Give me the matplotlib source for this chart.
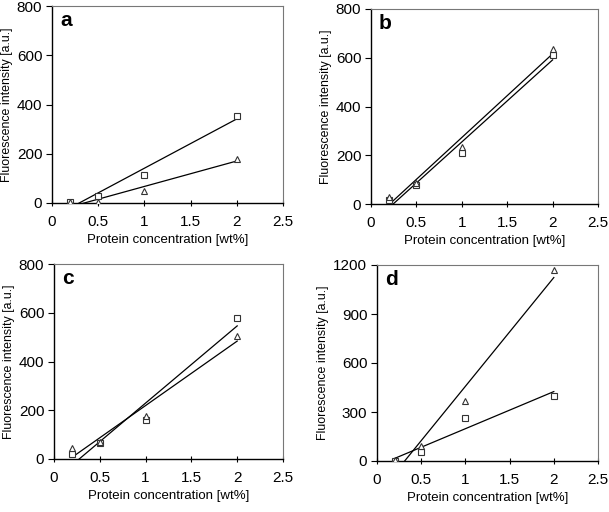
import numpy as np
import matplotlib
matplotlib.use("Agg")
import matplotlib.pyplot as plt

plt.rcParams["font.family"] = ["Liberation Sans", "DejaVu Sans"]

conc = [0.2, 0.5, 1.0, 2.0]

# fluorescence intensity
a_square = [5, 30, 115, 355]
a_triangle = [3, 5, 50, 180]
b_square = [15, 80, 210, 612]
b_triangle = [30, 88, 235, 635]
c_square = [20, 65, 160, 578]
c_triangle = [45, 70, 178, 505]
d_square = [3, 55, 265, 400]
d_triangle = [5, 90, 365, 1170]

panels = [
    ("a", a_square, a_triangle, 800, [0, 200, 400, 600, 800], [52, 6, 283, 203]),
    ("b", b_square, b_triangle, 800, [0, 200, 400, 600, 800], [371, 9, 598, 204]),
    ("c", c_square, c_triangle, 800, [0, 200, 400, 600, 800], [54, 264, 283, 459]),
    ("d", d_square, d_triangle, 1200, [0, 300, 600, 900, 1200], [377, 265, 598, 461]),
]

W, H = 609, 512
fig = plt.figure(figsize=(W / 100, H / 100), dpi=100)

for letter, sq, tri, ymax, yticks, (x0, y0, x1, y1) in panels:
    ax = fig.add_axes([x0 / W, 1 - y1 / H, (x1 - x0) / W, (y1 - y0) / H])
    for ys, mk in [(sq, "s"), (tri, "^")]:
        slope, icpt = np.polyfit(conc, ys, 1)
        xs = np.array([conc[0], conc[-1]])
        ax.plot(xs, slope * xs + icpt, color="black", lw=0.9)
        ax.plot(conc, ys, linestyle="none", marker=mk, ms=5, mfc="white",
                mec="#333333", mew=0.8, zorder=3)
    ax.set_xlim(0, 2.5)
    ax.set_ylim(0, ymax)
    ax.set_xticks([0, 0.5, 1, 1.5, 2, 2.5])
    ax.set_xticklabels(["0", "0.5", "1", "1.5", "2", "2.5"])
    ax.set_yticks(yticks)
    ax.tick_params(axis="x", direction="inout", length=5, width=0.8, labelsize=11, pad=6)
    ax.tick_params(axis="y", direction="out", length=4, width=0.8, labelsize=11, pad=3)
    for side in ["top", "right"]:
        ax.spines[side].set_color("#777777")
        ax.spines[side].set_linewidth(0.8)
    for side in ["left", "bottom"]:
        ax.spines[side].set_color("black")
        ax.spines[side].set_linewidth(1.0)
    ax.set_xlabel("Protein concentration [wt%]", fontsize=9.5, labelpad=4)
    ax.set_ylabel("Fluorescence intensity [a.u.]", fontsize=8.9, labelpad=3)
    ax.text(0.035, 0.975, letter, transform=ax.transAxes, fontsize=15,
            fontweight="bold", va="top", ha="left")

fig.savefig("out.png", dpi=100)
